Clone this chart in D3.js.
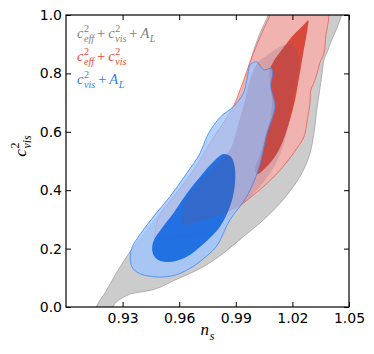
<!DOCTYPE html>
<html>
<head>
<meta charset="utf-8">
<script src="https://cdn.jsdelivr.net/npm/d3@7"></script>
<style>
  body { margin: 0; background: #fff; }
  svg { display: block; }
</style>
</head>
<body>
<div id="chart"></div>
<script>
// axis ticks
const nsTicks = [0.93, 0.96, 0.99, 1.02, 1.05];
const c2Ticks = [0.0, 0.2, 0.4, 0.6, 0.8, 1.0];

// contour outlines, [n_s, c_vis^2]
const grey95 = [
  [0.9159, -0.01], [0.9216, 0.058], [0.9277, 0.127], [0.9348, 0.197], [0.9401, 0.239],
  [0.9484, 0.309], [0.9569, 0.378], [0.9657, 0.452], [0.9724, 0.515], [0.9767, 0.566],
  [0.9813, 0.612], [0.9866, 0.658], [0.9913, 0.709], [0.9943, 0.76], [0.9979, 0.846],
  [1.0028, 0.937], [1.0072, 1.0], [1.0085, 1.029], [1.0473, 1.029], [1.0461, 1.0],
  [1.0435, 0.954], [1.0408, 0.914], [1.0382, 0.869], [1.0367, 0.846], [1.0357, 0.8],
  [1.0343, 0.737], [1.0329, 0.675], [1.0314, 0.595], [1.0293, 0.526], [1.0258, 0.469],
  [1.0205, 0.412], [1.0134, 0.355], [1.0046, 0.298], [0.994, 0.241], [0.9834, 0.184],
  [0.9728, 0.138], [0.964, 0.11], [0.9569, 0.09], [0.9507, 0.07], [0.9454, 0.058],
  [0.9392, 0.051], [0.9343, 0.045], [0.93, 0.032], [0.926, 0.013], [0.9237, -0.01]
];
const grey68 = [
  [0.961, 0.291], [0.9636, 0.366], [0.9694, 0.414], [0.98, 0.493], [0.9869, 0.538],
  [0.9912, 0.623], [0.9949, 0.709], [0.9975, 0.777], [1.0018, 0.839], [1.006, 0.86],
  [1.0124, 0.887], [1.0187, 0.901], [1.0224, 0.88], [1.0235, 0.839], [1.0212, 0.743],
  [1.0188, 0.658], [1.0161, 0.572], [1.0108, 0.486], [1.0055, 0.435], [1.0002, 0.394],
  [0.9949, 0.36], [0.988, 0.332], [0.979, 0.308], [0.97, 0.291], [0.9636, 0.281]
];
const red95 = [
  [0.9472, 0.233], [0.9475, 0.269], [0.9498, 0.315], [0.9551, 0.361], [0.9622, 0.418],
  [0.9693, 0.486], [0.9763, 0.561], [0.9834, 0.629], [0.9887, 0.686], [0.9928, 0.752],
  [0.9958, 0.806], [0.9993, 0.869], [1.0037, 0.937], [1.0081, 1.0], [1.0095, 1.029],
  [1.0387, 1.029], [1.0392, 0.989], [1.0378, 0.932], [1.0367, 0.869], [1.0346, 0.837],
  [1.0336, 0.812], [1.0318, 0.775], [1.0297, 0.741], [1.0293, 0.697], [1.0279, 0.64],
  [1.0261, 0.583], [1.0208, 0.529], [1.0138, 0.471], [1.0049, 0.414], [0.9943, 0.357],
  [0.9852, 0.309], [0.9781, 0.275], [0.971, 0.252], [0.9604, 0.241], [0.9498, 0.229]
];
const red68 = [
  [1.0284, 0.981], [1.0279, 0.949], [1.0267, 0.903], [1.0251, 0.846], [1.0233, 0.777],
  [1.0214, 0.709], [1.0187, 0.64], [1.0152, 0.572], [1.0108, 0.515], [1.0055, 0.475],
  [1.0014, 0.455], [1.0002, 0.467], [1.0028, 0.521], [1.0055, 0.578], [1.0081, 0.64],
  [1.0092, 0.697], [1.0085, 0.76], [1.0078, 0.806], [1.0099, 0.84], [1.0143, 0.88],
  [1.0201, 0.928], [1.0254, 0.962]
];
const blue95 = [
  [0.9348, 0.201], [0.9343, 0.15], [0.9366, 0.124], [0.9436, 0.106], [0.956, 0.106],
  [0.9657, 0.132], [0.9746, 0.175], [0.9799, 0.209], [0.9869, 0.298], [0.9958, 0.378],
  [1.0019, 0.469], [1.0046, 0.538], [1.0067, 0.6], [1.009, 0.64], [1.0108, 0.686],
  [1.0099, 0.72], [1.0085, 0.755], [1.0095, 0.798], [1.009, 0.817], [1.0049, 0.812],
  [1.0032, 0.823], [1.0011, 0.84], [0.9979, 0.831], [0.9958, 0.777], [0.994, 0.732],
  [0.989, 0.688], [0.982, 0.652], [0.9772, 0.612], [0.9746, 0.583], [0.971, 0.526],
  [0.964, 0.458], [0.9551, 0.378], [0.9463, 0.309], [0.9378, 0.235]
];
const blue68 = [
  [0.9834, 0.524], [0.9873, 0.515], [0.9894, 0.481], [0.9894, 0.412], [0.9869, 0.344],
  [0.9816, 0.275], [0.9728, 0.216], [0.964, 0.172], [0.9551, 0.154], [0.9489, 0.161],
  [0.9459, 0.186], [0.9463, 0.224], [0.9507, 0.269], [0.9569, 0.321], [0.964, 0.389],
  [0.9719, 0.452], [0.979, 0.503]
];

const legendNames = ["grey", "red", "blue"];

const MARGIN = { TOP: 15, LEFT: 66 };
const WIDTH = 283, HEIGHT = 292;

const svg = d3.select("#chart").append("svg")
  .attr("width", 374).attr("height", 354);

const x = d3.scaleLinear().domain([0.90, 1.05]).range([0, WIDTH]);
const y = d3.scaleLinear().domain([0, 1]).range([HEIGHT, 0]);

svg.append("defs").append("clipPath").attr("id", "plotClip")
  .append("rect").attr("width", WIDTH).attr("height", HEIGHT);

const g = svg.append("g")
  .attr("transform", `translate(${MARGIN.LEFT}, ${MARGIN.TOP})`);

const area = g.append("g").attr("clip-path", "url(#plotClip)");

const line = d3.line()
  .x(d => x(d[0]))
  .y(d => y(d[1]))
  .curve(d3.curveCatmullRomClosed.alpha(0.5));

// grey 68% is laid over the rest as a faint shade (only shows through the others)
const layers = [
  { pts: grey95, fill: "#cccccc", op: 1, stroke: "#a8a8a8" },
  { pts: red95, fill: "#f9aca8", op: 0.8, stroke: "#e8675d" },
  { pts: red68, fill: "#d32e1d", op: 0.8, stroke: "none" },
  { pts: blue95, fill: "#9cc4ff", op: 0.78, stroke: "#4c8ff2" },
  { pts: blue68, fill: "#005bdf", op: 0.8, stroke: "none" },
  { pts: grey68, fill: "#785078", op: 0.2, stroke: "none" }
];

layers.forEach(l => {
  area.append("path")
    .attr("d", line(l.pts))
    .attr("fill", l.fill)
    .attr("fill-opacity", l.op)
    .attr("stroke", l.stroke)
    .attr("stroke-width", 0.9);
});

// axes, ticks inward on all four sides
const fontTick = "DejaVu Sans, sans-serif";
const xAxis = g.append("g").attr("transform", `translate(0, ${HEIGHT})`)
  .call(d3.axisBottom(x).tickValues(nsTicks).tickSize(-5).tickPadding(6)
    .tickFormat(d3.format(".2f")).tickSizeOuter(0));
const xTop = g.append("g")
  .call(d3.axisTop(x).tickValues(nsTicks).tickSize(-5).tickFormat("").tickSizeOuter(0));
const yAxis = g.append("g")
  .call(d3.axisLeft(y).tickValues(c2Ticks).tickSize(-5).tickPadding(4)
    .tickFormat(d3.format(".1f")).tickSizeOuter(0));
const yRight = g.append("g").attr("transform", `translate(${WIDTH}, 0)`)
  .call(d3.axisRight(y).tickValues(c2Ticks).tickSize(-5).tickFormat("").tickSizeOuter(0));

[xAxis, xTop, yAxis, yRight].forEach(a => {
  a.select(".domain").remove();
  a.selectAll(".tick line").attr("stroke", "#000").attr("stroke-width", 1);
  a.selectAll("text").attr("font-family", fontTick).attr("font-size", 14).attr("fill", "#000");
});

g.append("rect")
  .attr("width", WIDTH).attr("height", HEIGHT)
  .attr("fill", "none").attr("stroke", "#000").attr("stroke-width", 1.2);

// little mathtext helper: italic base with stacked super/subscripts
const mathFont = "Liberation Serif, DejaVu Serif, serif";
function drawMath(sel, parts, fs, color) {
  let cx = 0;
  parts.forEach(p => {
    if (p.op) {
      cx += fs * 0.2;
      const t = sel.append("text").attr("x", cx).attr("font-size", fs)
        .attr("font-family", mathFont).attr("fill", color).text(p.op);
      cx += t.node().getComputedTextLength() + fs * 0.2;
      return;
    }
    const b = sel.append("text").attr("x", cx).attr("font-size", fs)
      .attr("font-family", mathFont).attr("font-style", "italic")
      .attr("fill", color).text(p.b);
    cx += b.node().getComputedTextLength() + fs * 0.04;
    let w = 0;
    if (p.sup) {
      const s = sel.append("text").attr("x", cx).attr("y", -fs * 0.42)
        .attr("font-size", fs * 0.7).attr("font-family", mathFont)
        .attr("fill", color).text(p.sup);
      w = Math.max(w, s.node().getComputedTextLength());
    }
    if (p.sub) {
      const s = sel.append("text").attr("x", cx).attr("y", fs * 0.28)
        .attr("font-size", fs * 0.7).attr("font-family", mathFont)
        .attr("font-style", "italic").attr("fill", color).text(p.sub);
      w = Math.max(w, s.node().getComputedTextLength());
    }
    cx += w;
  });
  return cx;
}

// legend
const legendColors = { grey: "#808080", red: "#e8473b", blue: "#2f80f2" };
const legendParts = {
  grey: [{ b: "c", sup: "2", sub: "eff" }, { op: "+" }, { b: "c", sup: "2", sub: "vis" }, { op: "+" }, { b: "A", sub: "L" }],
  red: [{ b: "c", sup: "2", sub: "eff" }, { op: "+" }, { b: "c", sup: "2", sub: "vis" }],
  blue: [{ b: "c", sup: "2", sub: "vis" }, { op: "+" }, { b: "A", sub: "L" }]
};
legendNames.forEach((n, i) => {
  const lg = svg.append("g").attr("transform", `translate(77, ${38 + i * 23})`);
  drawMath(lg, legendParts[n], 14.5, legendColors[n]);
});

// axis labels
const xl = svg.append("g");
const xw = drawMath(xl, [{ b: "n", sub: "s" }], 17, "#000");
xl.attr("transform", `translate(${MARGIN.LEFT + WIDTH / 2 - xw / 2}, 335)`);

const yl = svg.append("g");
const yw = drawMath(yl, [{ b: "c", sup: "2", sub: "vis" }], 17, "#000");
yl.attr("transform", `translate(26, ${146 + yw / 2}) rotate(-90)`);
</script>
</body>
</html>
